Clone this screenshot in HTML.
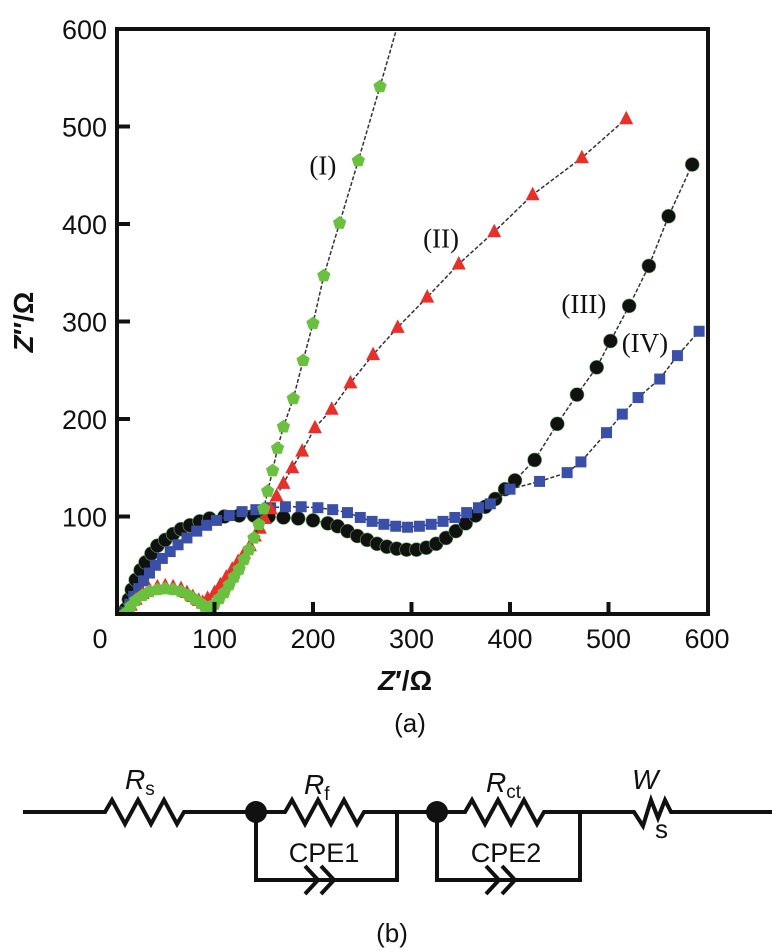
<!DOCTYPE html>
<html><head><meta charset="utf-8"><style>
body{margin:0;background:#fff;}
svg{display:block;font-family:"Liberation Sans",sans-serif;}
</style></head><body>
<svg id="fig" width="783" height="952" viewBox="0 0 783 952">
<g id="plot"></g>
<g id="circuit" stroke="#111" stroke-width="4" fill="none">
  <path d="M23 812 H105 l7 -12 l13 24 l13 -24 l13 24 l13 -24 l13 24 l7 -12 H285 l7 -12 l13 24 l13 -24 l13 24 l13 -24 l13 24 l7 -12 H465 l7 -12 l13 24 l13 -24 l13 24 l13 -24 l13 24 l7 -12 H634 l9 14 l8 -26 l7 18 l7 -18 l6 12 H772"/>
  <path d="M256 812 V880 H397 V812 M305 866 l13 14 l-13 14 M321 866 l13 14 l-13 14"/>
  <path d="M437 812 V880 H580 V812 M486 866 l13 14 l-13 14 M502 866 l13 14 l-13 14"/>
  <circle cx="256" cy="812" r="11" fill="#111" stroke="none"/>
  <circle cx="437" cy="812" r="11" fill="#111" stroke="none"/>
  <g stroke="none" fill="#111" font-size="28">
    <text x="125" y="789" font-style="italic">R<tspan font-size="19" font-style="normal" dy="6">s</tspan></text>
    <text x="304" y="794" font-style="italic">R<tspan font-size="19" font-style="normal" dy="6">f</tspan></text>
    <text x="486" y="792" font-style="italic">R<tspan font-size="19" font-style="normal" dy="6">ct</tspan></text>
    <text x="632" y="789" font-style="italic">W</text>
    <text x="655" y="838" font-size="26">s</text>
    <text x="324" y="862" text-anchor="middle" font-size="27">CPE1</text>
    <text x="506" y="862" text-anchor="middle" font-size="27">CPE2</text>
    <text x="392" y="942" text-anchor="middle" font-size="26">(b)</text>
  </g>
</g>
</svg>
<script>
const xTicks=[0,100,200,300,400,500,600];
const yTicks=[100,200,300,400,500,600];
const yTickLabels=["100","200","300","400","500","600"];
const s1x=[10,15,20,27,34,42,50,58,66,74,80,86,90,95,100,105,110,115,120,125,130,135,140,145,150,154,159,164,170,180,190,200,211,227,246,268];
const s1y=[1,8,14,19,23,25,26,25,23,19,15,11,8,7,10,16,22,30,38,46,56,66,78,92,108,126,147,170,192,221,260,298,347,401,465,541];
const s1LineEnd=[292,625];
const s2x=[10,15,20,27,34,42,50,58,66,72,78,84,88,93,100,106,112,118,124,130,136,141,146,151,157,163,170,179,189,202,219,238,261,286,316,348,384,423,473,518];
const s2y=[2,9,15,21,25,28,29,28,26,22,18,14,12,16,22,30,38,46,54,62,70,80,88,98,108,121,134,150,167,191,210,237,266,294,325,359,392,430,468,508];
const s3x=[10,13,16,20,25,30,36,42,50,58,66,75,85,95,110,125,140,155,170,185,200,215,225,235,245,255,265,275,285,295,305,315,325,335,345,355,365,375,385,395,405,425,448,468,488,502,521,541,561,585];
const s3y=[5,15,25,35,45,53,62,70,76,82,87,91,95,98,100,101,101,100,99,98,96,93,90,85,80,76,72,69,67,66,66,68,72,78,85,93,101,110,118,128,137,158,195,225,253,280,316,357,408,461];
const s4x=[10,14,18,23,28,34,40,47,55,63,72,82,92,102,115,128,142,157,172,188,205,220,235,248,260,272,284,296,308,320,332,344,356,368,380,400,430,458,472,498,514,530,552,570,592];
const s4y=[2,10,18,26,34,42,50,57,64,71,78,85,91,96,101,105,107,109,110,110,109,107,104,99,95,92,90,89,90,92,95,99,104,109,113,128,136,145,156,186,205,222,241,265,290];
const seriesLabels=["(I)","(II)","(III)","(IV)"];
const labelPos=[[210,460],[330,385],[475,318],[537,278]];

const NS="http://www.w3.org/2000/svg";
const L=117,R=708,T=29,B=614;
const X=v=>116+v*0.985, Y=v=>B-v*0.975;
const g=document.getElementById('plot');
function mk(tag,attrs,parent){const e=document.createElementNS(NS,tag);for(const k in attrs)e.setAttribute(k,attrs[k]);(parent||g).appendChild(e);return e;}
const defs=mk('defs',{});
const cp=mk('clipPath',{id:'clip'},defs);mk('rect',{x:L,y:T,width:R-L,height:B-T},cp);

function drawSeries(xs,ys,color,shape,name,extra){
  const grp=mk('g',{'clip-path':'url(#clip)'});
  
  
  let pts=xs.map((x,i)=>X(x)+','+Y(ys[i]));
  if(extra)pts.push(X(extra[0])+','+Y(extra[1]));
  const ln=mk('polyline',{points:pts.join(' '),fill:'none',stroke:'#333','stroke-width':1.5,'stroke-dasharray':'4 2'},grp);
  
  
  xs.forEach((x,i)=>{
    const cx=X(x),cy=Y(ys[i]);let m;
    if(shape==='circle')m=mk('circle',{cx,cy,r:7,fill:'#111',stroke:'#6a6',"stroke-width":0.6},grp);
    else if(shape==='square')m=mk('rect',{x:cx-5.5,y:cy-5.5,width:11,height:11,fill:'#3a4fa8'},grp);
    else if(shape==='tri')m=mk('polygon',{points:`${cx},${cy-8} ${cx+7},${cy+5.5} ${cx-7},${cy+5.5}`,fill:'#e8302a'},grp);
    else{let p=[];for(let k=0;k<5;k++){const a=-Math.PI/2+k*2*Math.PI/5;p.push((cx+7*Math.cos(a))+','+(cy+7*Math.sin(a)));}m=mk('polygon',{points:p.join(' '),fill:'#6cc040'},grp);}
    
    
  });
}
drawSeries(s3x,s3y,'#111','circle','series-iii');
drawSeries(s4x,s4y,'#3a4fa8','square','series-iv');
drawSeries(s2x,s2y,'#e8302a','tri','series-ii');
drawSeries(s1x,s1y,'#6cc040','pent','series-i',s1LineEnd);

const frame=mk('rect',{x:L,y:T,width:R-L,height:B-T,fill:'none',stroke:'#111','stroke-width':4});


xTicks.forEach(v=>{
  if(v>0&&v<600){const t=mk('line',{x1:X(v),x2:X(v),y1:B,y2:B-12,stroke:'#111','stroke-width':4});
  
  }
  const tx=mk('text',{x:X(v)-(v===0?16:0),y:B+34,'text-anchor':'middle','font-size':27,fill:'#111'});tx.textContent=String(v);
  
  
});
yTicks.forEach((v,i)=>{
  if(v<600){const t=mk('line',{x1:L,x2:L+13,y1:Y(v),y2:Y(v),stroke:'#111','stroke-width':4});
  
  }
  const tx=mk('text',{x:107,y:Y(v)+10,'text-anchor':'end','font-size':27,fill:'#111'});tx.textContent=yTickLabels[i];
  
  
});
seriesLabels.forEach((s,i)=>{
  const tx=mk('text',{x:X(labelPos[i][0]),y:Y(labelPos[i][1])+9,'text-anchor':'middle','font-size':27,'font-family':'Liberation Serif, serif',fill:'#111'});tx.textContent=s;
  
  
});
const xl=mk('text',{x:405,y:690,'text-anchor':'middle','font-size':28,'font-weight':'bold',fill:'#111'});
xl.innerHTML='<tspan font-style="italic">Z</tspan>′/Ω';


const yl=mk('text',{x:0,y:0,'text-anchor':'middle','font-size':28,'font-weight':'bold',fill:'#111',transform:'translate(33,322) rotate(-90)'});
yl.innerHTML='<tspan font-style="italic">Z</tspan>″/Ω';


const pa=mk('text',{x:410,y:732,'text-anchor':'middle','font-size':26,fill:'#111'});pa.textContent='(a)';


</script>
</body></html>
